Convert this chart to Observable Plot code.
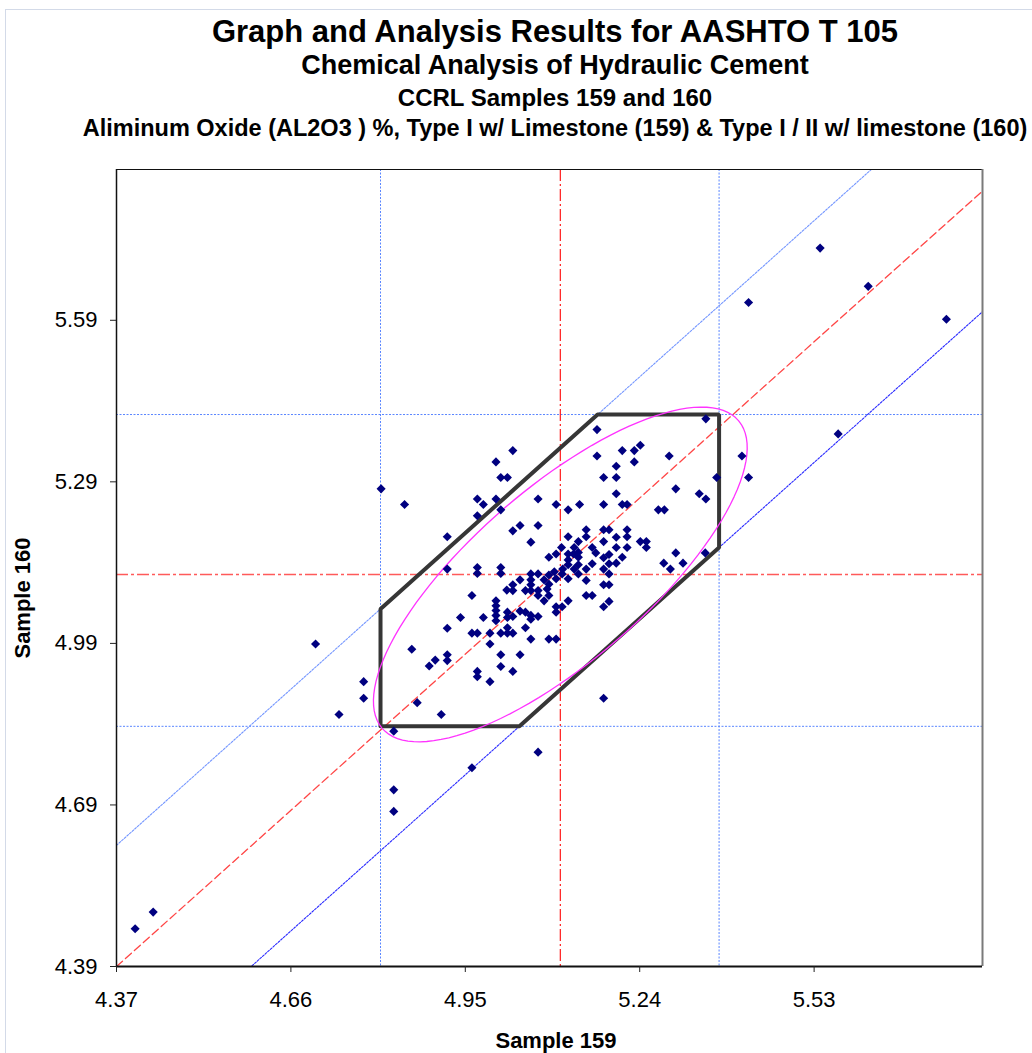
<!DOCTYPE html>
<html>
<head>
<meta charset="utf-8">
<script src="https://cdn.jsdelivr.net/npm/d3@7"></script>
<script src="https://cdn.jsdelivr.net/npm/@observablehq/plot@0.6"></script>
<style>
  body { margin: 0; background: #fff; font-family: "Liberation Sans", Arial, sans-serif; }
  #wrap { position: relative; width: 1032px; height: 1053px; overflow: hidden; }
  #border { position: absolute; left: 5px; top: 9px; right: -2px; bottom: -2px;
            border-left: 1px solid #d3dae8; border-top: 1px solid #d3dae8; }
  #head { position: relative; height: 150px; }
  .t { position: absolute; left: 0; width: 1110px; text-align: center; font-weight: bold;
       line-height: 1; white-space: nowrap; color: #000; }
  .axis-title { position: absolute; font-weight: bold; font-size: 22px; line-height: 1;
                white-space: nowrap; text-align: center; color: #000; }
  #chart svg { display: block; }
</style>
</head>
<body>
<div id="wrap">
  <div id="border"></div>
  <div id="head">
    <div class="t" style="top:16px;font-size:31px">Graph and Analysis Results for AASHTO T 105</div>
    <div class="t" style="top:52px;font-size:27px">Chemical Analysis of Hydraulic Cement</div>
    <div class="t" style="top:86px;font-size:24px">CCRL Samples 159 and 160</div>
    <div class="t" style="top:117px;font-size:23.5px">Aliminum Oxide (AL2O3 ) %, Type I w/ Limestone (159) &amp; Type I / II w/ limestone (160)</div>
  </div>
  <div id="chart"></div>
  <div class="axis-title" style="left:0;width:1112px;top:1030px">Sample 159</div>
  <div class="axis-title" style="left:-127px;width:300px;top:587px;transform:rotate(-90deg)">Sample 160</div>
</div>
<script>
// Laboratory results, Al2O3 % — sample 159 (x) paired with sample 160 (y)
const sample159 = [
  4.401, 4.431, 4.701, 4.740, 4.781, 4.781, 4.810, 4.849, 4.861, 4.870,
  4.890, 4.900, 4.910, 4.831, 4.831, 4.831, 4.961, 5.071, 5.180, 5.540,
  5.620, 5.421, 5.750, 5.570, 4.920, 4.920, 4.920, 4.920, 4.920,
  5.350, 5.169, 5.029, 5.211, 5.231, 5.241, 5.169, 5.289, 5.410, 5.001,
  5.231, 5.201, 5.009, 5.020, 5.180, 5.201, 5.368, 5.421, 5.300, 5.201,
  5.339, 5.350, 4.970, 5.001, 4.980, 5.071, 5.009, 5.101, 5.140, 5.180,
  5.211, 5.219, 5.121, 5.271, 5.281, 4.970, 5.071, 5.041, 5.029, 5.151,
  5.180, 5.189, 5.219, 5.151, 5.219, 5.121, 5.201, 5.059, 5.138, 5.180,
  5.241, 5.251, 5.110, 5.131, 5.161, 5.201, 5.219, 5.251, 5.138, 5.167,
  5.300, 5.349, 5.089, 5.101, 5.121, 5.130, 5.189, 5.211, 5.121, 5.138,
  5.180, 5.201, 5.280, 5.312, 5.161, 5.121, 5.138, 5.189, 5.112, 5.131,
  5.180, 5.291, 4.970, 4.970, 5.009, 5.009, 5.151, 5.098, 5.089, 5.071,
  5.059, 5.111, 5.138, 5.189, 5.041, 5.059, 5.081, 5.101, 5.121, 5.151,
  5.180, 5.189, 5.029, 5.059, 5.089, 5.019, 5.029, 5.050, 5.059, 5.071,
  5.086, 5.161, 5.151, 4.961, 5.089, 5.071, 5.081, 5.121, 5.001, 5.189,
  5.180, 5.101, 5.111, 5.001, 5.001, 5.001, 5.001, 5.101, 5.041, 5.050,
  5.059, 5.020, 5.020, 5.071, 5.029, 4.942, 4.980, 5.059, 5.050, 5.020,
  5.009, 5.020, 5.029, 4.961, 4.970, 4.991, 4.991, 5.059, 5.089, 5.101,
  5.009, 5.041, 5.009, 5.029, 4.970, 4.970, 4.991
];
const sample160 = [
  4.460, 4.491, 4.989, 4.858, 4.919, 4.888, 5.277, 5.248, 4.979, 4.880,
  4.948, 4.959, 4.858, 4.827, 4.718, 4.678, 4.759, 4.788, 4.888, 5.724,
  5.653, 5.623, 5.592, 5.379, 5.188, 5.128, 5.018, 4.969, 4.958,
  5.407, 5.387, 5.348, 5.348, 5.348, 5.358, 5.338, 5.338, 5.338, 5.327,
  5.327, 5.319, 5.298, 5.298, 5.298, 5.298, 5.298, 5.298, 5.277, 5.268,
  5.268, 5.258, 5.258, 5.258, 5.248, 5.258, 5.238, 5.248, 5.248, 5.248,
  5.248, 5.248, 5.238, 5.238, 5.238, 5.227, 5.209, 5.209, 5.199, 5.201,
  5.201, 5.201, 5.201, 5.188, 5.188, 5.188, 5.187, 5.178, 5.179, 5.179,
  5.179, 5.179, 5.168, 5.168, 5.168, 5.168, 5.168, 5.168, 5.159, 5.158,
  5.158, 5.158, 5.150, 5.156, 5.156, 5.156, 5.155, 5.150, 5.145, 5.150,
  5.149, 5.139, 5.139, 5.139, 5.138, 5.136, 5.136, 5.138, 5.128, 5.128,
  5.128, 5.128, 5.131, 5.120, 5.131, 5.120, 5.128, 5.123, 5.117, 5.119,
  5.119, 5.119, 5.119, 5.119, 5.108, 5.108, 5.108, 5.110, 5.110, 5.107,
  5.099, 5.099, 5.099, 5.099, 5.100, 5.089, 5.088, 5.088, 5.088, 5.088,
  5.091, 5.079, 5.079, 5.079, 5.079, 5.079, 5.069, 5.069, 5.069, 5.068,
  5.058, 5.058, 5.058, 5.060, 5.051, 5.042, 5.032, 5.048, 5.050, 5.048,
  5.042, 5.048, 5.038, 5.040, 5.040, 5.038, 5.038, 5.035, 5.019, 5.019,
  5.009, 5.009, 5.009, 5.009, 5.009, 5.009, 4.989, 4.998, 4.998, 4.998,
  4.969, 4.969, 4.947, 4.938, 4.938, 4.928, 4.919
];

// Axis extents and tick labels
const xDomain = [4.37, 5.81];
const yDomain = [4.39, 5.87];
const xTicks = [4.37, 4.66, 4.95, 5.24, 5.53];
const yTicks = [4.39, 4.69, 4.99, 5.29, 5.59];

// Analysis statistics
const median159 = 5.108;
const median160 = 5.118;
const limits159 = [4.809, 5.372];
const limits160 = [4.836, 5.415];
const diagonalOffset = 0.02;            // equality line (160 = 159 + offset)
const bandOffsets = [0.245, -0.204];    // upper / lower difference limits
const ellipseAxes = [0.412, 0.153];     // semi-axes along / across the 45° direction

const points = sample159.map((x, i) => ({x, y: sample160[i]}));

const diagonal = (off) => xDomain.map(x => ({x, y: x + off}));

const [xLow, xHigh] = limits159;
const [yLow, yHigh] = limits160;
const [bandUpper, bandLower] = bandOffsets;
const acceptRegion = [
  {x: xLow, y: yLow},
  {x: yLow - bandLower, y: yLow},
  {x: xHigh, y: xHigh + bandLower},
  {x: xHigh, y: yHigh},
  {x: yHigh - bandUpper, y: yHigh},
  {x: xLow, y: xLow + bandUpper},
  {x: xLow, y: yLow}
];

const [ea, eb] = ellipseAxes;
const ellipse = d3.range(0, 361, 3).map(deg => {
  const t = deg * Math.PI / 180;
  const u = ea * Math.cos(t), v = eb * Math.sin(t);
  return {x: median159 + (u - v) / Math.SQRT2, y: median160 + (u + v) / Math.SQRT2};
});

const fmt = d => d.toFixed(2);

const chart = Plot.plot({
  width: 1032,
  height: 903,
  marginTop: 19,
  marginLeft: 116,
  marginRight: 50,
  marginBottom: 87,
  style: {fontFamily: "'Liberation Sans', Arial, sans-serif", background: "transparent", color: "#000", overflow: "visible"},
  x: {domain: xDomain},
  y: {domain: yDomain},
  marks: [
    // control limits
    Plot.ruleX(limits159, {stroke: "#5a86ff", strokeWidth: 1, strokeDasharray: "2,1.5"}),
    Plot.ruleY(limits160, {stroke: "#5a86ff", strokeWidth: 1, strokeDasharray: "2,1.5"}),
    // difference band lines
    Plot.line(diagonal(bandUpper), {x: "x", y: "y", stroke: "#7496ff", strokeWidth: 1.1, strokeDasharray: "2,1.5", clip: true}),
    Plot.line(diagonal(bandLower), {x: "x", y: "y", stroke: "#2a2aff", strokeWidth: 1.1, strokeDasharray: "2,1.5", clip: true}),
    // equality line
    Plot.line(diagonal(diagonalOffset), {x: "x", y: "y", stroke: "#ff4545", strokeWidth: 1.3, strokeDasharray: "8,4", clip: true}),
    // medians
    Plot.ruleX([median159], {stroke: "#ff1a1a", strokeWidth: 1.2, strokeDasharray: "12,3,2,3"}),
    Plot.ruleY([median160], {stroke: "#ff5a5a", strokeWidth: 1.5, strokeDasharray: "12,3,3,3"}),
    // acceptance region and ellipse
    Plot.line(acceptRegion, {x: "x", y: "y", stroke: "#363636", strokeWidth: 4, strokeLinejoin: "miter"}),
    Plot.line(ellipse, {x: "x", y: "y", stroke: "#ff33ff", strokeWidth: 1.3, curve: "linear"}),
    // frame edges
    Plot.ruleY([yDomain[1]], {stroke: "#111", strokeWidth: 1.2}),
    Plot.ruleX([xDomain[1]], {stroke: "#7a7a7a", strokeWidth: 2}),
    Plot.ruleX([xDomain[0]], {stroke: "#111", strokeWidth: 1.5}),
    Plot.ruleY([yDomain[0]], {stroke: "#111", strokeWidth: 2}),
    // laboratory results
    Plot.dot(points, {x: "x", y: "y", symbol: "diamond2", r: 4.1, fill: "#000080", stroke: "none"}),
    Plot.axisX({ticks: xTicks, tickFormat: fmt, tickSize: 6, tickPadding: 19, fontSize: 22, label: null, stroke: "#222"}),
    Plot.axisY({ticks: yTicks, tickFormat: fmt, tickSize: 6, tickPadding: 13, fontSize: 22, label: null, stroke: "#222"})
  ]
});

document.getElementById("chart").appendChild(chart);
</script>
</body>
</html>
